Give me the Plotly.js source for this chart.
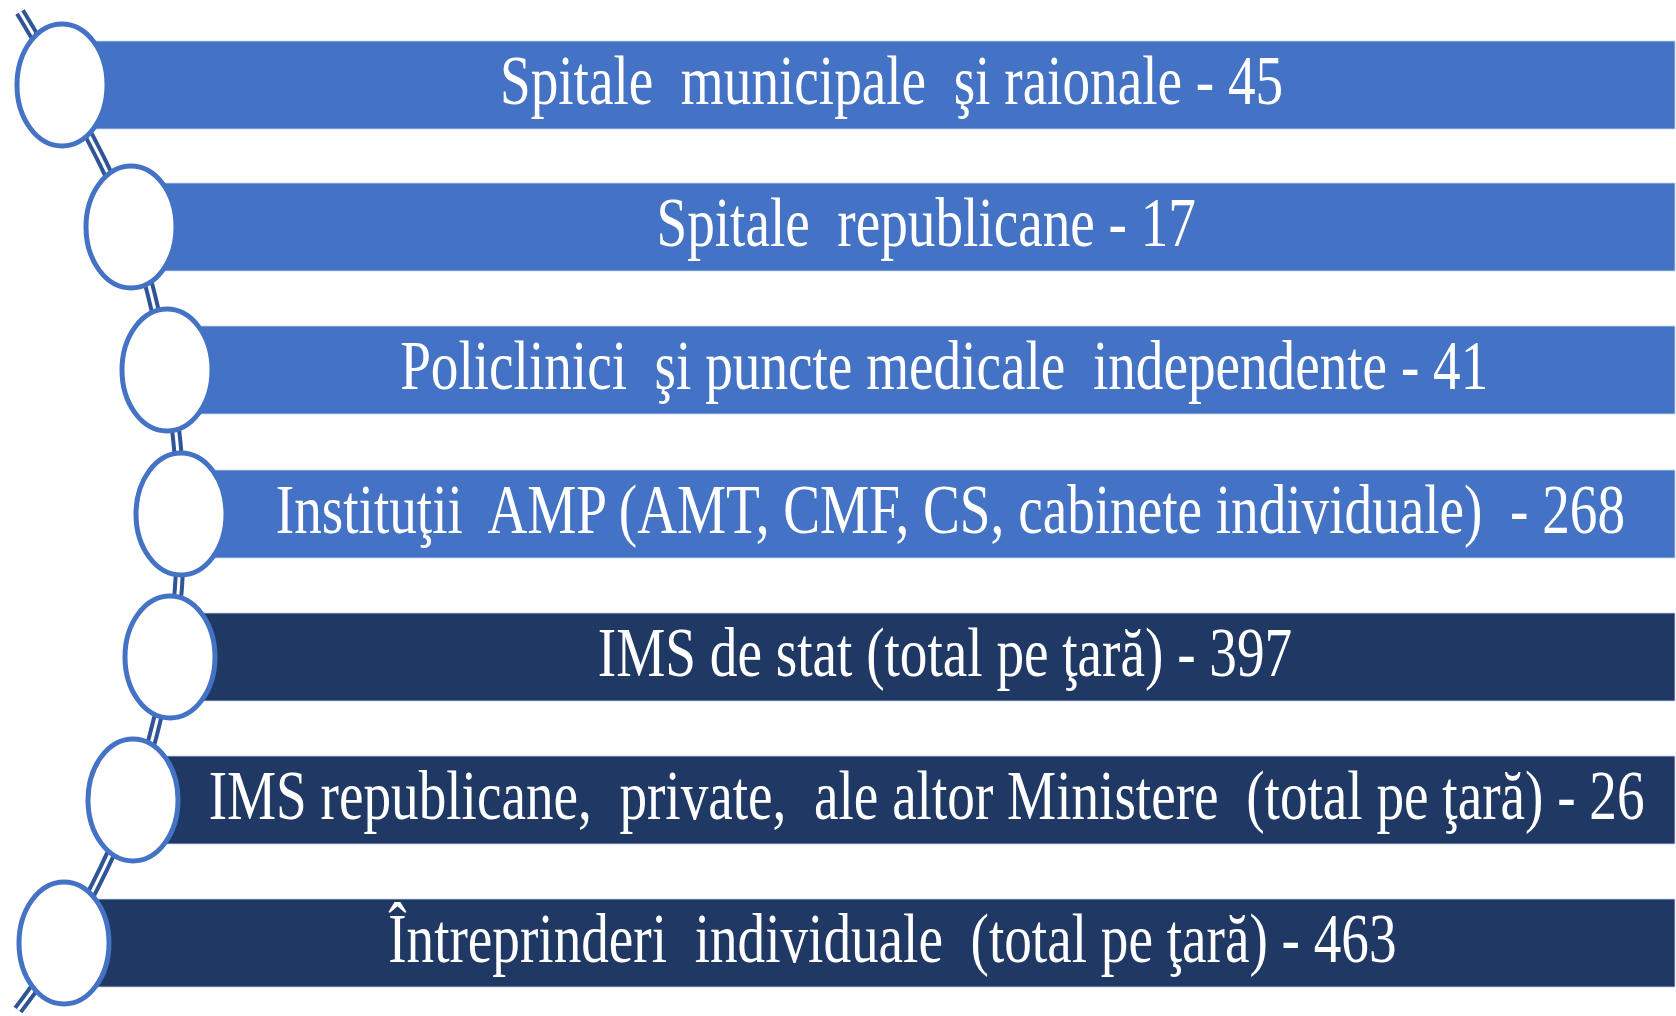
<!DOCTYPE html>
<html>
<head>
<meta charset="utf-8">
<script src="https://cdn.plot.ly/plotly-3.0.1.min.js"></script>
<style>html,body{margin:0;padding:0;background:#fff;}#chart{width:1676px;height:1016px;}</style>
</head>
<body>
<div id="chart"></div>
<script>
// Data
const labels = [
  "Spitale  municipale  şi raionale",
  "Spitale  republicane",
  "Policlinici  şi puncte medicale  independente",
  "Instituţii  AMP (AMT, CMF, CS, cabinete individuale) ",
  "IMS de stat (total pe ţară)",
  "IMS republicane,  private,  ale altor Ministere  (total pe ţară)",
  "Întreprinderi  individuale  (total pe ţară)"
];
const values = [45, 17, 41, 268, 397, 26, 463];
const groups = ["sub", "sub", "sub", "sub", "total", "total", "total"];
const groupColors = {sub: "#4472C4", total: "#203864"};

// Layout geometry (pixels of the diagram canvas)
const W = 1676, H = 1016;
const rowY = [85, 227, 370, 514, 657, 800, 943];
const circleX = [62, 131, 167, 181, 170, 133, 64];
const rx = 45, ry = 61, barHalf = 44, barRight = 1675;
const textScaleX = 0.80;

const shapes = [];
const annotations = [];
labels.forEach((lab, i) => {
  shapes.push({type: "rect", xref: "x", yref: "y", layer: "above",
    x0: circleX[i], x1: barRight, y0: rowY[i] - barHalf, y1: rowY[i] + barHalf,
    fillcolor: groupColors[groups[i]], line: {color: "rgba(200,215,240,0.8)", width: 1}});
});
labels.forEach((lab, i) => {
  shapes.push({type: "circle", xref: "x", yref: "y", layer: "above",
    x0: circleX[i] - rx, x1: circleX[i] + rx, y0: rowY[i] - ry, y1: rowY[i] + ry,
    fillcolor: "#ffffff", line: {color: "#4472C4", width: 5}});
  annotations.push({xref: "x", yref: "y", x: (circleX[i] + rx + barRight) / 2, y: rowY[i] - 4,
    text: lab + " - " + values[i], showarrow: false, xanchor: "center", yanchor: "middle",
    font: {family: "Liberation Serif, Times New Roman, serif", size: 69, color: "#ffffff"}});
});

// connector path through circle centres
const pathX = [20].concat(circleX).concat([18]);
const pathY = [12].concat(rowY).concat([1010]);

const traces = [
  {x: pathX, y: pathY, mode: "lines", line: {shape: "spline", smoothing: 1, color: "#2F5597", width: 11}, hoverinfo: "skip"},
  {x: pathX, y: pathY, mode: "lines", line: {shape: "spline", smoothing: 1, color: "#ffffff", width: 3}, hoverinfo: "skip"}
];

const layout = {
  width: W, height: H, margin: {l: 0, r: 0, t: 0, b: 0},
  paper_bgcolor: "#ffffff", plot_bgcolor: "#ffffff", showlegend: false,
  xaxis: {range: [0, W], visible: false, fixedrange: true},
  yaxis: {range: [H, 0], visible: false, fixedrange: true},
  shapes: shapes, annotations: annotations
};

Plotly.newPlot("chart", traces, layout, {displayModeBar: false, staticPlot: true}).then(() => {
  document.querySelectorAll("#chart .annotation-text").forEach(t => {
    const b = t.getBBox();
    const cx = b.x + b.width / 2;
    t.setAttribute("transform", `translate(${cx},0) scale(${textScaleX},1) translate(${-cx},0)`);
  });
});
</script>
</body>
</html>
